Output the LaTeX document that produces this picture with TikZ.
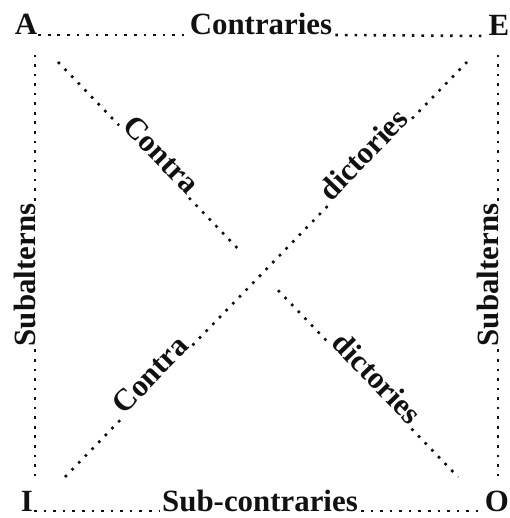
\documentclass[tikz,border=0pt]{standalone}
\usepackage{fontspec}
\setmainfont{Liberation Serif}
\usetikzlibrary{calc}
\definecolor{ink}{HTML}{111111}
\tikzset{
  letter/.style={inner sep=1pt, text=ink, font=\fontsize{31}{36}\selectfont\bfseries},
  lbl/.style={inner sep=3pt, text=ink, font=\fontsize{31}{36}\selectfont\bfseries},
  leader/.style={draw=ink, line width=2.6pt, dash pattern=on 2.6pt off 7pt}
}
\begin{document}
\begin{tikzpicture}[x=1bp, y=-1bp]
  \useasboundingbox (0,0) rectangle (510,518);

  \node[letter, anchor=base] (A) at (26,35) {A};
  \node[letter, anchor=base] (E) at (499,36) {E};
  \node[letter, anchor=base] (I) at (27,511) {I};
  \node[letter, anchor=base] (O) at (497,511) {O};

  \node[lbl, anchor=base] (contr) at (261,35) {Contraries};
  \node[lbl, anchor=base] (subcontr) at (260,511) {Sub-contraries};
  \node[lbl, anchor=base, rotate=90] (subL) at (35,275) {Subalterns};
  \node[lbl, anchor=base, rotate=90] (subR) at (498,275) {Subalterns};

  \coordinate (d1s) at (58,62);
  \coordinate (d1e) at (458,477);
  \coordinate (d2s) at (65,477);
  \coordinate (d2e) at (467,62);
  \node[lbl, anchor=base, rotate=-46] (contraA) at ($(d1s)!0.24!(d1e)$) {Contra};
  \node[lbl, anchor=base, rotate=-46] (dictO) at ($(d1s)!0.78!(d1e)$) {dictories};
  \node[lbl, anchor=base, rotate=46] (contraI) at ($(d2s)!0.23!(d2e)$) {Contra};
  \node[lbl, anchor=base, rotate=46] (dictE) at ($(d2s)!0.76!(d2e)$) {dictories};
  \coordinate (gapA) at ($(d1s)!0.455!(d1e)$);
  \coordinate (gapO) at ($(d1s)!0.55!(d1e)$);

  \draw[leader] (A.base east) -- (contr.base west);
  \draw[leader] (contr.base east) -- (E.base west);
  \draw[leader] (I.base east) -- (subcontr.base west);
  \draw[leader] (subcontr.base east) -- (O.base west);

  \draw[leader, shorten >=12bp] (subL.base east) -- (subL.base east |- A.south);
  \draw[leader, shorten >=8bp] (subL.base west) -- (subL.base west |- I.north);
  \draw[leader, shorten >=12bp] (subR.base east) -- (subR.base east |- E.south);
  \draw[leader, shorten >=8bp] (subR.base west) -- (subR.base west |- O.north);

  \draw[leader] (d1s) -- (contraA.base west);
  \draw[leader] (contraA.base east) -- (gapA);
  \draw[leader] (gapO) -- (dictO.base west);
  \draw[leader] (dictO.base east) -- (d1e);
  \draw[leader] (d2s) -- (contraI.base west);
  \draw[leader] (contraI.base east) -- (dictE.base west);
  \draw[leader] (dictE.base east) -- (d2e);
\end{tikzpicture}
\end{document}
